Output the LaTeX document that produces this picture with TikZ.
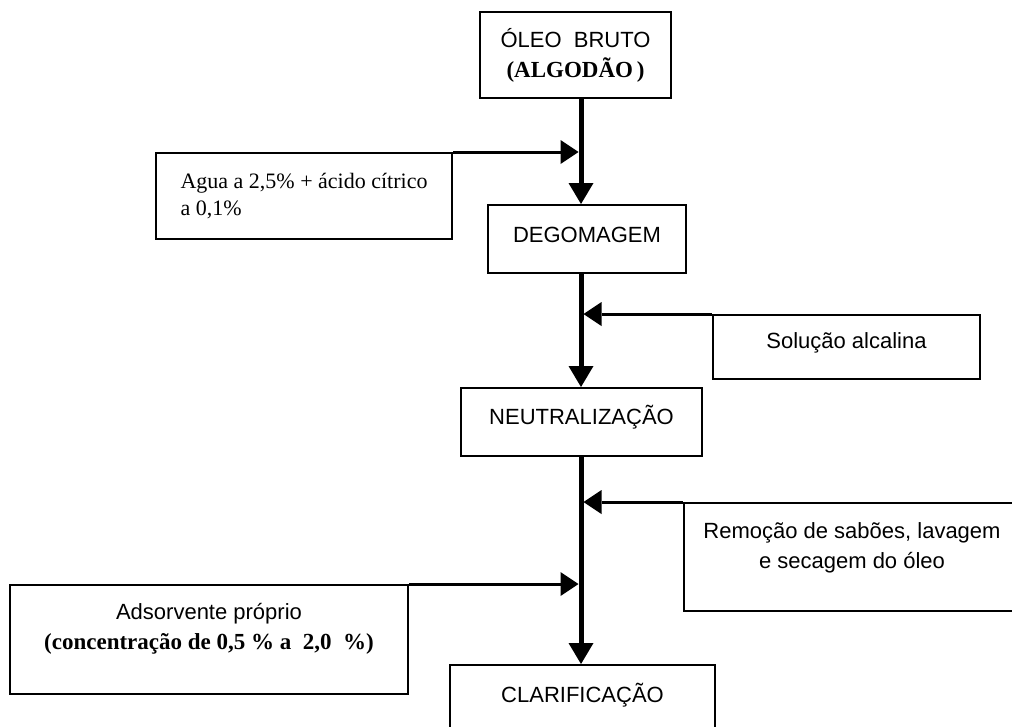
\documentclass[tikz,border=0pt]{standalone}
\usepackage{fontspec}
\setmainfont{Liberation Serif}
\setsansfont{Liberation Sans}
\usetikzlibrary{arrows.meta}
\begin{document}
\begin{tikzpicture}[x=1pt,y=-1pt,
  box/.style={draw, line width=2pt, inner sep=0pt, align=center},
  sanstxt/.style={font=\sffamily\fontsize{22}{30}\selectfont},
  mainline/.style={line width=5pt, -{Triangle[width=25pt,length=21pt,line width=0pt]}},
  feed/.style={line width=3pt, -{Triangle[width=24pt,length=18pt,line width=0pt]}, shorten >=2.5pt}]

\useasboundingbox (0,0) rectangle (1012,726);
\clip (0,0) rectangle (1012,726);
\coordinate (mx) at (581,0);

% boxes
\node[box, minimum width=191pt, minimum height=86pt, font=\fontsize{22}{30}\selectfont] (oleo) at (575.5,55)
  {{\sffamily ÓLEO~~BRUTO}\\{\rmfamily\bfseries\fontsize{23}{30}\selectfont (ALGODÃO\,)}};

\node[box, align=left, minimum width=296pt, minimum height=86pt, font=\rmfamily\fontsize{22}{27}\selectfont] (agua) at (304,196)
  {Agua a 2,5\% + ácido cítrico\\a 0,1\%};

\node[box, sanstxt, minimum width=198pt, minimum height=68pt, text depth=8pt] (degom) at (587,239) {DEGOMAGEM};

\node[box, sanstxt, minimum width=267pt, minimum height=64pt, text depth=12pt] (sol) at (846.5,347) {Solução alcalina};

\node[box, sanstxt, minimum width=241pt, minimum height=68pt, text depth=14pt] (neut) at (581.5,422) {NEUTRALIZAÇÃO};

\node[box, sanstxt, minimum width=336pt, minimum height=108pt, text depth=22pt] (rem) at (852,557)
  {Remoção de sabões, lavagem\\e secagem do óleo};

\node[box, sanstxt, minimum width=398pt, minimum height=109pt, text depth=27pt] (ads) at (209,639.5)
  {Adsorvente próprio\\{\rmfamily\bfseries\fontsize{23}{30}\selectfont (concentração de 0,5 \% a~ 2,0~ \%)}};

\node[box, sanstxt, minimum width=265pt, minimum height=80pt, text depth=24pt] (clar) at (582.5,705) {CLARIFICAÇÃO};

% main flow
\draw[mainline] (oleo.south -| mx) -- (degom.north -| mx);
\draw[mainline] (degom.south -| mx) -- (neut.north -| mx);
\draw[mainline] (neut.south -| mx) -- (clar.north -| mx);

% feeds
\draw[feed] (agua.north east) -- (agua.north east -| mx);
\draw[feed] (sol.north west) -- (sol.north west -| mx);
\draw[feed] (rem.north west) -- (rem.north west -| mx);
\draw[feed] (ads.north east) -- (ads.north east -| mx);
\end{tikzpicture}
\end{document}
